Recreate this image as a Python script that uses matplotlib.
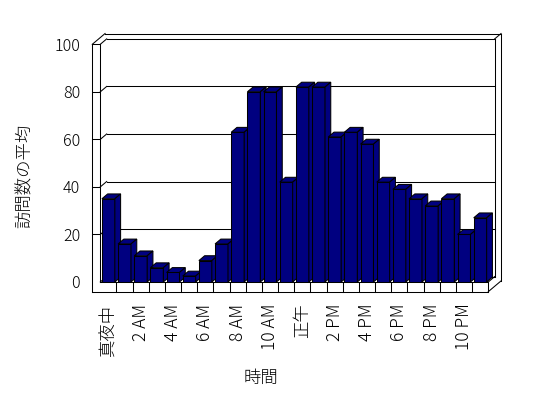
import matplotlib.pyplot as plt
from matplotlib.patches import Polygon

plt.rcParams['font.family'] = ['Noto Sans CJK JP', 'DejaVu Sans']
plt.rcParams['font.weight'] = 'light'

# hourly data
hours = list(range(24))
visits = [35, 16, 11, 6, 4, 2.5, 9, 16, 63, 80, 80, 42,
          82, 82, 61, 63, 58, 42, 39, 35, 32, 35, 20, 27]
tick_pos = list(range(0, 24, 2))
tick_labels = ["真夜中", "2 AM", "4 AM", "6 AM", "8 AM", "10 AM",
               "正午", "2 PM", "4 PM", "6 PM", "8 PM", "10 PM"]
y_ticks = [0, 20, 40, 60, 80, 100]

NAVY = "#000080"
LW = 0.75

# fake 3D geometry, in data units
DX, DY = 0.396, 2.27      # depth of the walls
WT = 0.495                # left wall thickness
FT = 4.08                 # floor thickness
BDX, BDY = 0.9 * DX, 0.9 * DY   # depth of the bars
L, R = -0.5, 23.5

fig = plt.figure(figsize=(5.48, 3.98), dpi=100)
ax = fig.add_axes([0.1830, 0.2915, 0.7080, 0.5972])
ax.set_xlim(L, R)
ax.set_ylim(0, 100)
for s in ax.spines.values():
    s.set_visible(False)


def seg(x1, y1, x2, y2, z=1):
    ax.plot([x1, x2], [y1, y2], color="black", lw=LW, clip_on=False,
            zorder=z, solid_capstyle="projecting")


# walls and floor
seg(L - WT, -FT, L - WT, 100)
seg(L, 0, L, 100)
seg(L - WT, 100, L - WT + 2 * DX, 100 + 2 * DY)
seg(L, 100, L + DX, 100 + DY)
seg(L - WT + 2 * DX, 100 + 2 * DY, R + 2 * DX, 100 + 2 * DY)
seg(L + DX, 100 + DY, R + DX, 100 + DY)
seg(R + DX, 100 + DY, R + 2 * DX, 100 + 2 * DY)
seg(R + DX, DY, R + DX, 100 + DY)
seg(R + 2 * DX, 2 * DY - FT, R + 2 * DX, 100 + 2 * DY)
seg(L, 0, R, 0)
seg(L - WT, -FT, R, -FT)
seg(R, -FT, R, 0)
seg(R, 0, R + DX, DY)
seg(R, -FT, R + 2 * DX, 2 * DY - FT)
for k in range(1, 24):
    seg(L + k, -FT, L + k, 0)

# gridlines on back and left walls
for v in [0, 20, 40, 60, 80]:
    seg(L + DX, v + DY, R + DX, v + DY)
    seg(L, v, L + DX, v + DY)
for v in [20, 40, 60, 80, 100]:
    seg(L - WT, v, L, v)

# bars: front faces from ax.bar, top and side faces as polygons
bars = ax.bar(hours, visits, width=0.8, color=NAVY, edgecolor="black", lw=LW)
for i, (b, v) in enumerate(zip(bars, visits)):
    z = 3 + i * 0.01
    b.set_zorder(z)
    x0 = b.get_x()
    x1 = x0 + b.get_width()
    top = Polygon([(x0, v), (x1, v), (x1 + BDX, v + BDY), (x0 + BDX, v + BDY)],
                  closed=True, facecolor=NAVY, edgecolor="black", lw=LW,
                  zorder=z, clip_on=False)
    side = Polygon([(x1, 0), (x1 + BDX, BDY), (x1 + BDX, v + BDY), (x1, v)],
                   closed=True, facecolor=NAVY, edgecolor="black", lw=LW,
                   zorder=z, clip_on=False)
    ax.add_patch(top)
    ax.add_patch(side)

ax.set_yticks(y_ticks)
ax.set_yticklabels([str(t) for t in y_ticks], fontsize=11.5)
ax.tick_params(axis="y", length=0, pad=14.5)
ax.set_xticks(tick_pos)
ax.set_xticklabels(tick_labels, rotation=90, fontsize=12.5)
ax.tick_params(axis="x", length=0, pad=15.5)

fig.text(25 / 548, 1 - 176 / 398, "訪問数の平均", rotation=90,
         ha="center", va="center", fontsize=12.5)
fig.text(261 / 548, 1 - 378 / 398, "時間", ha="center", va="center",
         fontsize=12.5)

fig.savefig("out.png", dpi=100)
